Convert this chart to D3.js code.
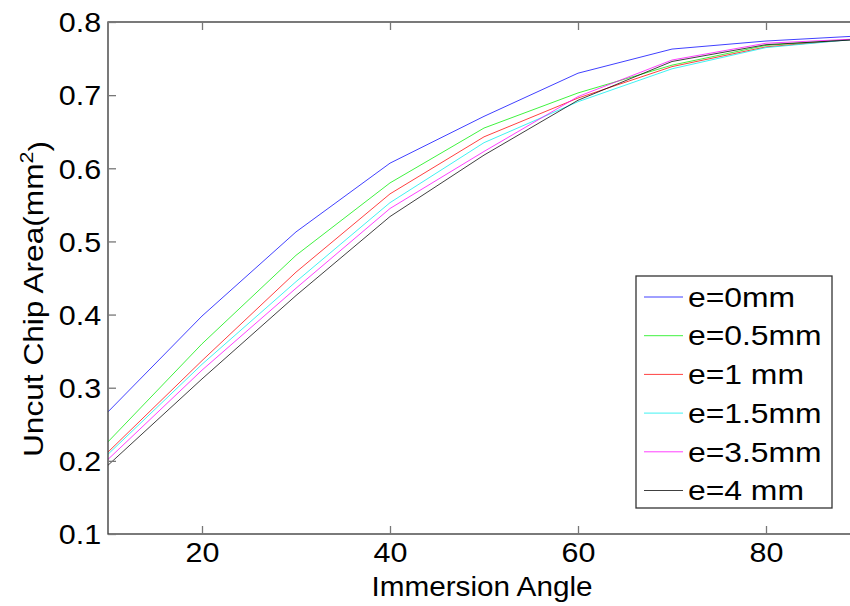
<!DOCTYPE html>
<html>
<head>
<meta charset="utf-8">
<script src="https://cdn.jsdelivr.net/npm/d3@7"></script>
<style>
  body { margin: 0; background: #fff; }
  text { font-family: Arial, "Liberation Sans", sans-serif; }
</style>
</head>
<body>
<svg id="chart" width="850" height="606"></svg>
<script>
// immersion angle (deg)
let angles = [10, 20, 30, 40, 50, 60, 70, 80, 90];

let seriesNames = ["e=0mm", "e=0.5mm", "e=1 mm", "e=1.5mm", "e=3.5mm", "e=4 mm"];
let seriesColors = ["#0000ff", "#00ee00", "#ff0000", "#00eeee", "#ff00ff", "#000000"];

// uncut chip area (mm^2)
let e0   = [0.267, 0.398, 0.513, 0.607, 0.671, 0.730, 0.763, 0.774, 0.781];
let e05  = [0.226, 0.360, 0.481, 0.580, 0.655, 0.703, 0.741, 0.768, 0.777];
let e1   = [0.212, 0.337, 0.458, 0.565, 0.643, 0.696, 0.739, 0.766, 0.777];
let e15  = [0.209, 0.332, 0.445, 0.553, 0.635, 0.691, 0.736, 0.765, 0.777];
let e35  = [0.202, 0.324, 0.436, 0.545, 0.623, 0.698, 0.748, 0.771, 0.777];
let e4   = [0.194, 0.312, 0.426, 0.534, 0.618, 0.693, 0.746, 0.769, 0.776];
let allSeries = [e0, e05, e1, e15, e35, e4];

let xTicks = [20, 40, 60, 80];
let yTicks = [0.1, 0.2, 0.3, 0.4, 0.5, 0.6, 0.7, 0.8];

let svg = d3.select("#chart"),
    margin = {top: 22, right: -10, bottom: 72, left: 108},
    width = +svg.attr("width") - margin.left - margin.right,
    height = +svg.attr("height") - margin.top - margin.bottom;

// the picture's text is a bit wider than plain Arial
let sx = 1.13;

let x = d3.scaleLinear().domain([10, 90]).range([0, width]);
let y = d3.scaleLinear().domain([0.1, 0.8]).range([height, 0]);

let g = svg.append("g")
  .attr("transform", "translate(" + margin.left + "," + margin.top + ")");

g.append("clipPath").attr("id", "clip")
  .append("rect").attr("width", width).attr("height", height);

// lines
let line = d3.line()
  .x(function (d, i) { return x(angles[i]); })
  .y(function (d) { return y(d); });

g.append("g").attr("clip-path", "url(#clip)")
  .selectAll("path")
  .data(allSeries)
  .enter().append("path")
  .attr("d", line)
  .attr("fill", "none")
  .attr("stroke", function (d, i) { return seriesColors[i]; })
  .attr("stroke-width", 1)
  .attr("stroke-opacity", 0.75);

// axes (ticks inside, MATLAB style)
let tickLen = 8;
let axisColor = "#333";

g.append("rect")
  .attr("width", width).attr("height", height)
  .attr("fill", "none").attr("stroke", axisColor).attr("stroke-width", 1.3);

let xAxis = g.append("g")
  .attr("transform", "translate(0," + height + ")")
  .call(d3.axisBottom(x).tickValues(xTicks).tickSize(-tickLen).tickPadding(9).tickFormat(d3.format("d")));
let xAxisTop = g.append("g")
  .call(d3.axisTop(x).tickValues(xTicks).tickSize(-tickLen).tickFormat(""));
let yAxis = g.append("g")
  .call(d3.axisLeft(y).tickValues(yTicks).tickSize(-tickLen).tickPadding(6).tickFormat(d3.format(".1f")));

[xAxis, xAxisTop, yAxis].forEach(function (a) {
  a.select(".domain").remove();
  a.selectAll(".tick line").attr("stroke", "#777").attr("stroke-width", 1.3);
  a.selectAll(".tick text")
    .style("font-size", "27px")
    .style("font-family", "Arial, 'Liberation Sans', sans-serif")
    .attr("fill", "#000")
    .attr("transform", "scale(" + sx + ",1)");
});
yAxis.selectAll(".tick text").attr("dy", "0.36em");

// axis titles
svg.append("text")
  .attr("transform", "translate(482,596) scale(1.1,1)")
  .attr("text-anchor", "middle")
  .style("font-size", "27px")
  .text("Immersion Angle");

let yt = svg.append("text")
  .attr("transform", "translate(43,299) rotate(-90) scale(" + sx + ",1)")
  .attr("text-anchor", "middle")
  .style("font-size", "28px");
yt.append("tspan").text("Uncut Chip Area(mm");
yt.append("tspan").attr("dy", "-0.55em").style("font-size", "19px").text("2");
yt.append("tspan").attr("dy", "0.55em").text(")");

// legend
let lx = 636, ly = 276, lw = 196, lh = 232, rowH = 38.7;
let legend = svg.append("g");
legend.append("rect")
  .attr("x", lx).attr("y", ly).attr("width", lw).attr("height", lh)
  .attr("fill", "#fff").attr("stroke", axisColor).attr("stroke-width", 1.3);

let items = legend.selectAll("g.item")
  .data(seriesNames)
  .enter().append("g")
  .attr("class", "item")
  .attr("transform", function (d, i) { return "translate(" + lx + "," + (ly + 21 + i * rowH) + ")"; });

items.append("line")
  .attr("x1", 8).attr("x2", 47)
  .attr("stroke", function (d, i) { return seriesColors[i]; })
  .attr("stroke-opacity", 0.75)
  .attr("stroke-width", 1);

items.append("text")
  .attr("transform", "translate(52,0) scale(1.18,1)")
  .attr("dy", "0.36em")
  .style("font-size", "27px")
  .text(function (d) { return d; });
</script>
</body>
</html>
